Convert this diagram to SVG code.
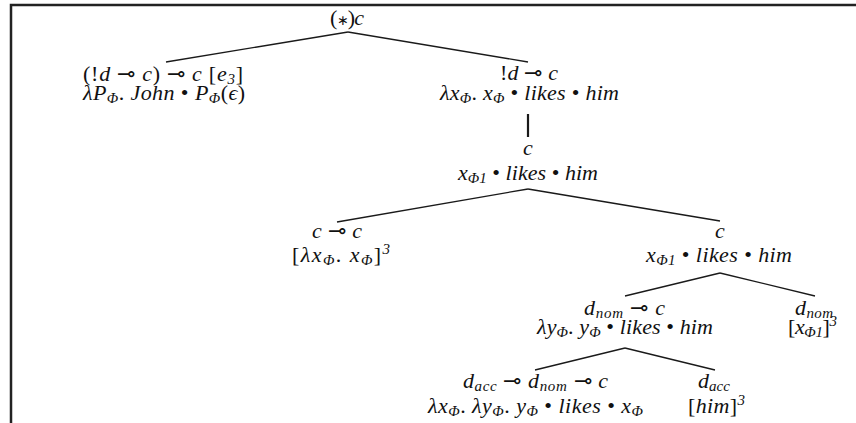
<svg xmlns="http://www.w3.org/2000/svg" width="856" height="423" viewBox="0 0 856 423">
<style>
.t{font-family:'Liberation Serif',serif;font-size:22px;font-style:italic;fill:#111}
.r{font-style:normal}
.s{font-size:15px}
.e{stroke:#1a1a1a;stroke-width:1.3;fill:none}
.f{stroke:#222;stroke-width:2.5;fill:none}
</style>
<rect width="856" height="423" fill="#fff"/>
<g id="frame">
<path class="f" d="M11 423 V5 H856"/>
</g>
<g id="connectors">
<line class="e" x1="348" y1="32" x2="166" y2="62"/>
<line class="e" x1="348" y1="32" x2="528" y2="62"/>
<line class="e" x1="528" y1="114" x2="528" y2="137" style="stroke-width:2.2"/>
<line class="e" x1="528" y1="189" x2="337" y2="222"/>
<line class="e" x1="528" y1="189" x2="720" y2="221"/>
<line class="e" x1="720" y1="273" x2="625" y2="296"/>
<line class="e" x1="720" y1="273" x2="815" y2="296"/>
<line class="e" x1="625" y1="348" x2="535" y2="370"/>
<line class="e" x1="625" y1="348" x2="715" y2="370"/>
</g>
<g id="n-root">
<text class="t" x="330" y="25" textLength="34"><tspan class="r">(</tspan><tspan class="r" style="font-size:14px">∗</tspan><tspan class="r">)</tspan>c</text>
</g>
<g id="n-john">
<text class="t" x="83" y="81" textLength="160"><tspan class="r">(!</tspan>d <tspan class="r">⊸</tspan> c<tspan class="r">) ⊸</tspan> c <tspan class="r"> [</tspan>e<tspan class="s" dy="3">3</tspan><tspan class="r" dy="-3">]</tspan></text>
<text class="t" x="83" y="100" textLength="162">λP<tspan class="s" dy="3">Φ</tspan><tspan class="r" dy="-3">. </tspan>John <tspan class="r">•</tspan> P<tspan class="s" dy="3">Φ</tspan><tspan class="r" dy="-3">(</tspan>ϵ<tspan class="r">)</tspan></text>
</g>
<g id="n-likes1">
<text class="t" x="500" y="80" textLength="58"><tspan class="r">!</tspan>d <tspan class="r">⊸</tspan> c</text>
<text class="t" x="440" y="100" textLength="179">λx<tspan class="s" dy="3">Φ</tspan><tspan class="r" dy="-3">. </tspan>x<tspan class="s" dy="3">Φ</tspan><tspan class="r" dy="-3"> • </tspan>likes <tspan class="r">•</tspan> him</text>
</g>
<g id="n-c1">
<text class="t" x="528" y="155" text-anchor="middle">c</text>
<text class="t" x="458" y="180" textLength="140">x<tspan class="s" dy="3">Φ1</tspan><tspan class="r" dy="-3"> • </tspan>likes <tspan class="r">•</tspan> him</text>
</g>
<g id="n-cc">
<text class="t" x="312" y="238" textLength="50">c <tspan class="r">⊸</tspan> c</text>
<text class="t" x="292" y="262" textLength="98"><tspan class="r">[</tspan>λx<tspan class="s" dy="3">Φ</tspan><tspan class="r" dy="-3">. </tspan>x<tspan class="s" dy="3">Φ</tspan><tspan class="r" dy="-3">]</tspan><tspan class="s" dy="-8">3</tspan></text>
</g>
<g id="n-c2">
<text class="t" x="720" y="238" text-anchor="middle">c</text>
<text class="t" x="646" y="262" textLength="146">x<tspan class="s" dy="3">Φ1</tspan><tspan class="r" dy="-3"> • </tspan>likes <tspan class="r">•</tspan> him</text>
</g>
<g id="n-dnomc">
<text class="t" x="584" y="315" textLength="81">d<tspan class="s" dy="3">nom</tspan><tspan class="r" dy="-3"> ⊸ </tspan>c</text>
<text class="t" x="537" y="334" textLength="176">λy<tspan class="s" dy="3">Φ</tspan><tspan class="r" dy="-3">. </tspan>y<tspan class="s" dy="3">Φ</tspan><tspan class="r" dy="-3"> • </tspan>likes <tspan class="r">•</tspan> him</text>
</g>
<g id="n-dnom">
<text class="t" x="795" y="315" textLength="38">d<tspan class="s" dy="3">nom</tspan></text>
<text class="t" x="788" y="334" textLength="49"><tspan class="r">[</tspan>x<tspan class="s" dy="3">Φ1</tspan><tspan class="r" dy="-3">]</tspan><tspan class="s" dy="-8">3</tspan></text>
</g>
<g id="n-daccdnomc">
<text class="t" x="463" y="388" textLength="145">d<tspan class="s" dy="3">acc</tspan><tspan class="r" dy="-3"> ⊸ </tspan>d<tspan class="s" dy="3">nom</tspan><tspan class="r" dy="-3"> ⊸ </tspan>c</text>
<text class="t" x="428" y="413" textLength="215">λx<tspan class="s" dy="3">Φ</tspan><tspan class="r" dy="-3">. </tspan>λy<tspan class="s" dy="3">Φ</tspan><tspan class="r" dy="-3">. </tspan>y<tspan class="s" dy="3">Φ</tspan><tspan class="r" dy="-3"> • </tspan>likes <tspan class="r">•</tspan> x<tspan class="s" dy="3">Φ</tspan></text>
</g>
<g id="n-dacc">
<text class="t" x="698" y="388" textLength="32">d<tspan class="s" dy="3">acc</tspan></text>
<text class="t" x="688" y="413" textLength="57"><tspan class="r">[</tspan>him<tspan class="r">]</tspan><tspan class="s" dy="-8">3</tspan></text>
</g>
</svg>
